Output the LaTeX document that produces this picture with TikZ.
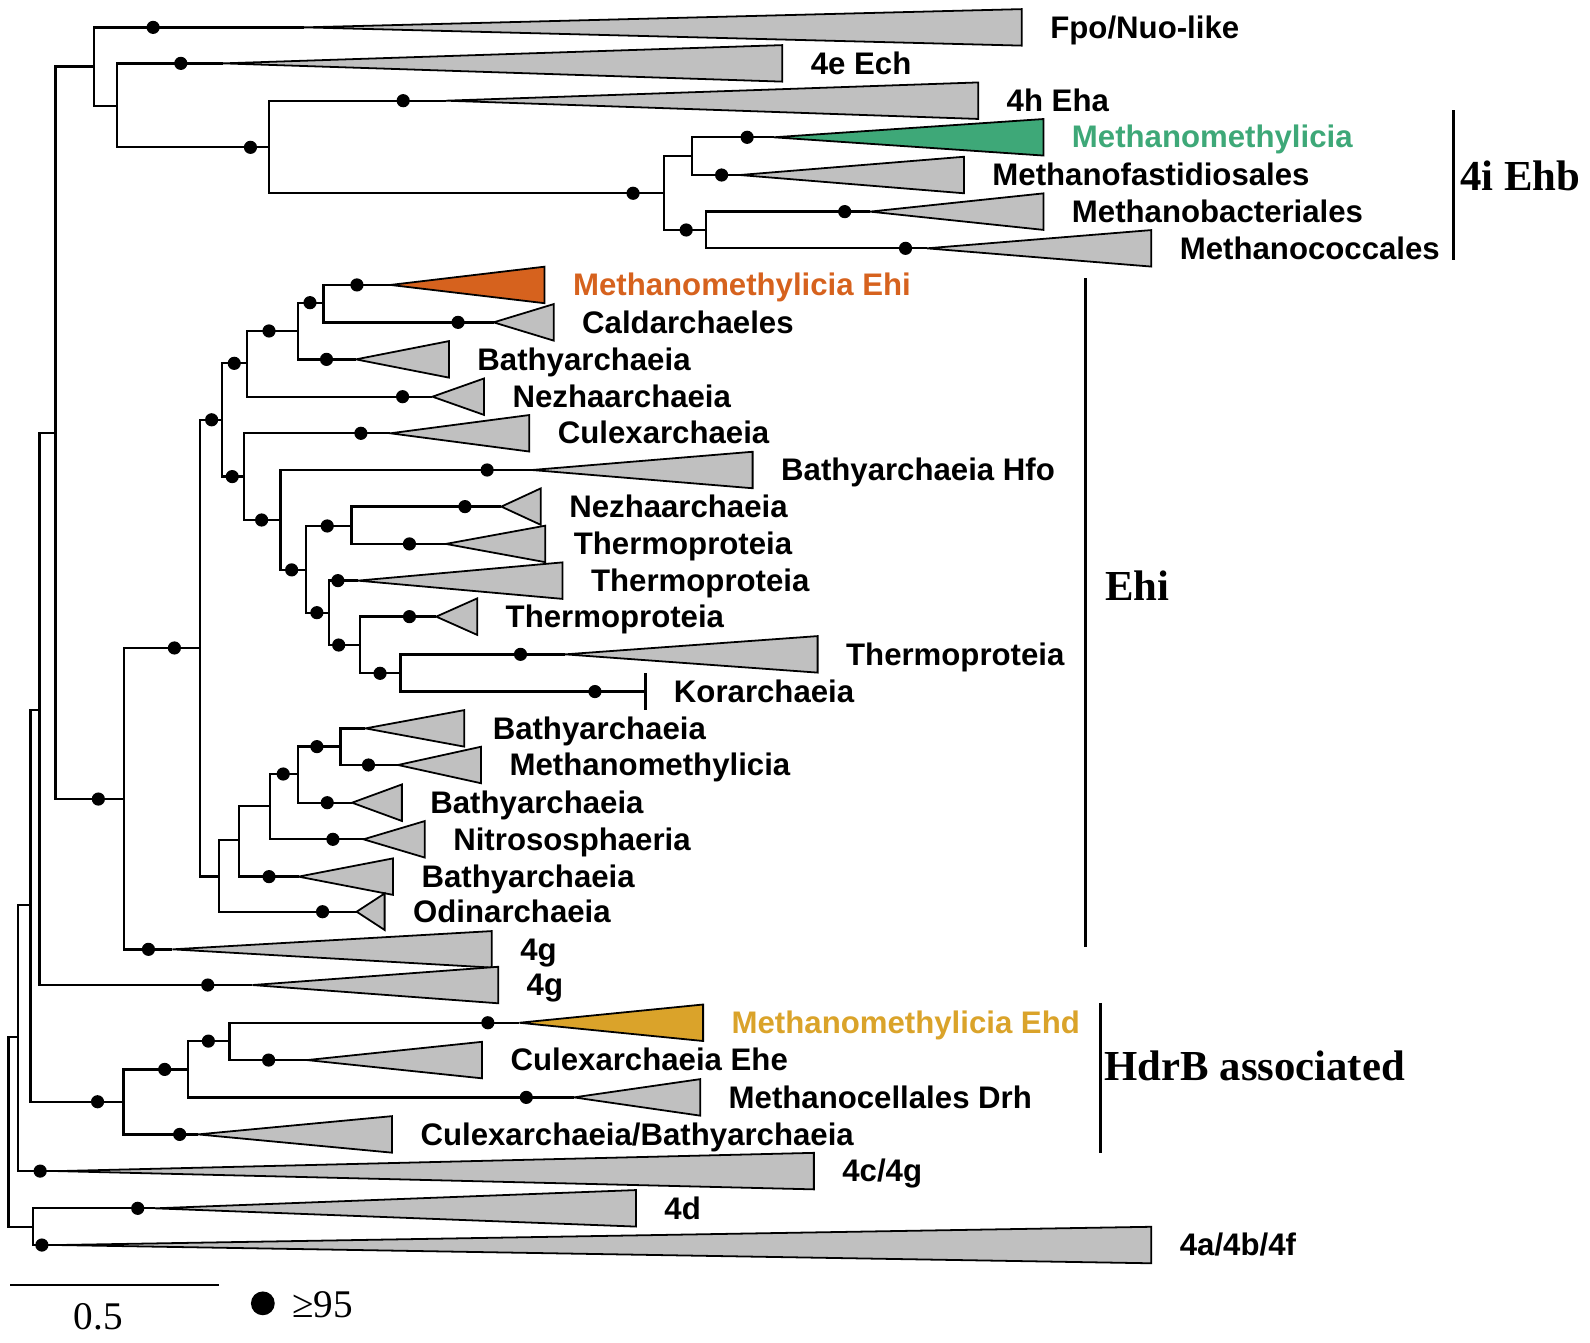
\documentclass[tikz,border=0pt]{standalone}
\usepackage{fontspec}
\setmainfont{Liberation Serif}
\setsansfont{Liberation Sans}
\definecolor{cladegray}{RGB}{192,192,192}
\definecolor{ehbgreen}{RGB}{62,168,120}
\definecolor{ehiorange}{RGB}{214,98,30}
\definecolor{ehdgold}{RGB}{218,163,42}
\newcommand{\clade}[7]{%
  \coordinate (#3) at (#4,#5);
  \draw[tri,fill=#1] (#3) -- (#6,#5-18) -- (#6,#5+18) -- cycle;
  \node[taxon,text=#2] (#3-lab) at (#6+27,#5) {#7};
}
\begin{document}
\begin{tikzpicture}[x=0.02cm,y=-0.02cm,line width=1.3pt,
  dot/.style={circle,fill=black,inner sep=0pt,minimum size=0.26cm},
  tri/.style={draw,line width=1pt,line join=miter},
  taxon/.style={anchor=mid west,inner sep=0pt,yshift=-3.7pt,font=\sffamily\bfseries\fontsize{17.5}{20}\selectfont},
  group/.style={anchor=mid west,inner sep=0pt,yshift=-5.7pt,font=\bfseries\fontsize{24}{28}\selectfont},
  bar/.style={line width=1.7pt}]

\useasboundingbox (0,0) rectangle (1568,1324);

\coordinate (root) at (8.5,1116);
\coordinate (n1) at (17.8,1022.4);
\coordinate (n2) at (30.2,892.5);
\coordinate (n3) at (38.9,700);
\coordinate (n4) at (54.8,426.7);
\coordinate (t1) at (92.5,65.7);
\coordinate (t2) at (115.4,104.5);
\coordinate (t3) at (265,145.3);
\coordinate (e0) at (654.7,190.6);
\coordinate (e1) at (682.5,153.8);
\coordinate (e2) at (695.9,226.8);
\coordinate (n5) at (122,788);
\coordinate (n6) at (197,639);
\coordinate (n7) at (218.9,414);
\coordinate (n8) at (243.4,358.3);
\coordinate (n9) at (240.8,470);
\coordinate (n10) at (293.6,326.4);
\coordinate (n11) at (318.9,298.5);
\coordinate (n12) at (276.6,512.8);
\coordinate (n13) at (302,562);
\coordinate (n14) at (346.5,518.7);
\coordinate (n15) at (324.6,604.2);
\coordinate (n16) at (354.8,636.1);
\coordinate (n17) at (395.1,664);
\coordinate (l1) at (215.9,864.5);
\coordinate (l2) at (235.9,828.4);
\coordinate (l3) at (266.1,794.9);
\coordinate (l4) at (293.6,763.3);
\coordinate (l5) at (335.9,736.3);
\coordinate (h0) at (121.7,1086.5);
\coordinate (h1) at (185.6,1054.6);
\coordinate (h2) at (226.4,1026.7);
\coordinate (n18) at (32.3,1209.7);

\clade{cladegray}{black}{fpo}{300}{27}{1007.7}{Fpo/Nuo-like}
\clade{cladegray}{black}{ech}{220}{62.5}{771.5}{4e Ech}
\clade{cladegray}{black}{eha}{440}{99.3}{964.6}{4h Eha}
\clade{ehbgreen}{ehbgreen}{ehb1}{763}{135.4}{1029}{Methanomethylicia}
\clade{cladegray}{black}{ehb2}{729.5}{172.6}{950.6}{Methanofastidiosales}
\clade{cladegray}{black}{ehb3}{858}{208.7}{1029}{Methanobacteriales}
\clade{cladegray}{black}{ehb4}{914}{244.9}{1135.4}{Methanococcales}
\clade{ehiorange}{ehiorange}{ehi1}{385}{281}{537}{Methanomethylicia Ehi}
\clade{cladegray}{black}{ehi2}{486.8}{317.9}{546}{Caldarchaeles}
\clade{cladegray}{black}{ehi3}{351}{354.4}{442.7}{Bathyarchaeia}
\clade{cladegray}{black}{ehi4}{426.5}{391.2}{477.4}{Nezhaarchaeia}
\clade{cladegray}{black}{ehi5}{385}{427.3}{522}{Culexarchaeia}
\clade{cladegray}{black}{ehi6}{524.6}{463.5}{742.2}{Bathyarchaeia Hfo}
\clade{cladegray}{black}{ehi7}{494.4}{499.6}{533.3}{Nezhaarchaeia}
\clade{cladegray}{black}{ehi8}{439.7}{536.4}{537.8}{Thermoproteia}
\clade{cladegray}{black}{ehi9}{352.9}{572.6}{554.8}{Thermoproteia}
\clade{cladegray}{black}{ehi10}{430.2}{608.1}{470.6}{Thermoproteia}
\clade{cladegray}{black}{ehi11}{557.3}{645.3}{806.3}{Thermoproteia}
\coordinate (ehi12) at (636.5,682);
\draw (636.5,664) -- (636.5,700);
\node[taxon] (ehi12-lab) at (663.5,682) {Korarchaeia};
\clade{cladegray}{black}{ehi13}{360.4}{718.3}{457.8}{Bathyarchaeia}
\clade{cladegray}{black}{ehi14}{392.5}{754.4}{474.4}{Methanomethylicia}
\clade{cladegray}{black}{ehi15}{347.2}{791.6}{396.3}{Bathyarchaeia}
\clade{cladegray}{black}{ehi16}{358.5}{827.7}{418.9}{Nitrososphaeria}
\clade{cladegray}{black}{ehi17}{294.4}{864.5}{387.6}{Bathyarchaeia}
\clade{cladegray}{black}{ehi18}{351.7}{899.1}{379.3}{Odinarchaeia}
\clade{cladegray}{black}{g1}{170}{936.2}{485}{4g}
\clade{cladegray}{black}{g2}{249}{971.4}{491.3}{4g}
\clade{ehdgold}{ehdgold}{hdr1}{512.2}{1008.6}{693.4}{Methanomethylicia Ehd}
\clade{cladegray}{black}{hdr2}{302.8}{1045.4}{475.4}{Culexarchaeia Ehe}
\clade{cladegray}{black}{hdr3}{566}{1082.2}{690.5}{Methanocellales Drh}
\clade{cladegray}{black}{hdr4}{195.3}{1118.7}{386.6}{Culexarchaeia/Bathyarchaeia}
\clade{cladegray}{black}{cg}{57}{1154.9}{802.6}{4c/4g}
\clade{cladegray}{black}{d}{153}{1191.6}{627.1}{4d}
\clade{cladegray}{black}{abf}{57}{1227.8}{1135.4}{4a/4b/4f}

\path [draw]
    (root) |- (n1) (root) |- (n18)
    (n1) |- (n2) (n1) |- (cg)
    (n2) |- (n3) (n2) |- (h0)
    (n3) |- (n4) (n3) |- (g2)
    (n4) |- (t1) (n4) |- (n5)
    (t1) |- (fpo) (t1) |- (t2)
    (t2) |- (ech) (t2) |- (t3)
    (t3) |- (eha) (t3) |- (e0)
    (e0) |- (e1) (e0) |- (e2)
    (e1) |- (ehb1) (e1) |- (ehb2)
    (e2) |- (ehb3) (e2) |- (ehb4)
    (n5) |- (n6) (n5) |- (g1)
    (n6) |- (n7) (n6) |- (l1)
    (n7) |- (n8) (n7) |- (n9)
    (n8) |- (n10) (n8) |- (ehi4)
    (n10) |- (n11) (n10) |- (ehi3)
    (n11) |- (ehi1) (n11) |- (ehi2)
    (n9) |- (ehi5) (n9) |- (n12)
    (n12) |- (ehi6) (n12) |- (n13)
    (n13) |- (n14) (n13) |- (n15)
    (n14) |- (ehi7) (n14) |- (ehi8)
    (n15) |- (ehi9) (n15) |- (n16)
    (n16) |- (ehi10) (n16) |- (n17)
    (n17) |- (ehi11) (n17) |- (ehi12)
    (l1) |- (l2) (l1) |- (ehi18)
    (l2) |- (l3) (l2) |- (ehi17)
    (l3) |- (l4) (l3) |- (ehi16)
    (l4) |- (l5) (l4) |- (ehi15)
    (l5) |- (ehi13) (l5) |- (ehi14)
    (h0) |- (h1) (h0) |- (hdr4)
    (h1) |- (h2) (h1) |- (hdr3)
    (h2) |- (hdr1) (h2) |- (hdr2)
    (n18) |- (d) (n18) |- (abf)
;

\node[dot] (fpo-bs) at (151,27) {};
\node[dot] (ech-bs) at (178.3,62.5) {};
\node[dot] (t3-bs) at (247,145.3) {};
\node[dot] (eha-bs) at (397.6,99.3) {};
\node[dot] (e0-bs) at (624.3,190.6) {};
\node[dot] (ehb1-bs) at (736.8,135.4) {};
\node[dot] (ehb2-bs) at (711.6,172.6) {};
\node[dot] (e2-bs) at (676.7,226.8) {};
\node[dot] (ehb3-bs) at (833,208.7) {};
\node[dot] (ehb4-bs) at (893,244.9) {};
\node[dot] (n5-bs) at (97,788) {};
\node[dot] (n6-bs) at (172,639) {};
\node[dot] (g1-bs) at (146.4,936.2) {};
\node[dot] (g2-bs) at (204.9,971.4) {};
\node[dot] (n7-bs) at (208.7,414) {};
\node[dot] (n8-bs) at (231,358.3) {};
\node[dot] (n9-bs) at (229,470) {};
\node[dot] (n10-bs) at (265.3,326.4) {};
\node[dot] (n11-bs) at (305.7,298.5) {};
\node[dot] (ehi1-bs) at (352,281) {};
\node[dot] (ehi2-bs) at (451.7,317.9) {};
\node[dot] (ehi3-bs) at (322,354.4) {};
\node[dot] (ehi4-bs) at (397,391.2) {};
\node[dot] (ehi5-bs) at (355.9,427.3) {};
\node[dot] (n12-bs) at (258,512.8) {};
\node[dot] (ehi6-bs) at (480.4,463.5) {};
\node[dot] (n13-bs) at (287.6,562) {};
\node[dot] (n14-bs) at (322.7,518.7) {};
\node[dot] (ehi7-bs) at (458.5,499.6) {};
\node[dot] (ehi8-bs) at (403.8,536.4) {};
\node[dot] (n15-bs) at (312.5,604.2) {};
\node[dot] (ehi9-bs) at (333.2,572.6) {};
\node[dot] (n16-bs) at (334,636.1) {};
\node[dot] (ehi10-bs) at (403.8,608.1) {};
\node[dot] (n17-bs) at (374.8,664) {};
\node[dot] (ehi11-bs) at (513.3,645.3) {};
\node[dot] (ehi12-bs) at (586.7,682) {};
\node[dot] (l4-bs) at (279.3,763.3) {};
\node[dot] (l5-bs) at (312.5,736.3) {};
\node[dot] (ehi14-bs) at (363.4,754.4) {};
\node[dot] (ehi15-bs) at (322.7,791.6) {};
\node[dot] (ehi16-bs) at (328.3,827.7) {};
\node[dot] (ehi17-bs) at (265.3,864.5) {};
\node[dot] (ehi18-bs) at (318.1,899.1) {};
\node[dot] (h0-bs) at (96.2,1086.5) {};
\node[dot] (h1-bs) at (162.4,1054.6) {};
\node[dot] (h2-bs) at (205.5,1026.7) {};
\node[dot] (hdr1-bs) at (481.1,1008.6) {};
\node[dot] (hdr2-bs) at (264.9,1045.4) {};
\node[dot] (hdr3-bs) at (519,1082.2) {};
\node[dot] (hdr4-bs) at (177.2,1118.7) {};
\node[dot] (cg-bs) at (39.6,1154.9) {};
\node[dot] (d-bs) at (135.8,1191.6) {};
\node[dot] (abf-bs) at (41.3,1227.8) {};

\draw[bar] (1433.7,108.5) -- (1433.7,256.4);
\node[group] (ehb-lab) at (1439,174.2) {4i Ehb};
\draw[bar] (1070.5,274.5) -- (1070.5,933.6);
\node[group] (ehi-lab) at (1089,578) {Ehi};
\draw[bar] (1085,988.9) -- (1085,1136.8);
\node[group] (hdr-lab) at (1088,1051.3) {HdrB associated};

\draw (10.2,1267.3) -- (216.2,1267.3);
\node[font=\fontsize{22}{26}\selectfont] (scale-lab) at (97,1298.5) {0.5};
\node[circle,fill=black,inner sep=0pt,minimum size=0.47cm] (key-dot) at (259.2,1285.3) {};
\node[anchor=mid west,inner sep=0pt,yshift=-4.5pt,font=\fontsize{22}{26}\selectfont] (key-lab) at (287,1287) {≥95};

\end{tikzpicture}
\end{document}
